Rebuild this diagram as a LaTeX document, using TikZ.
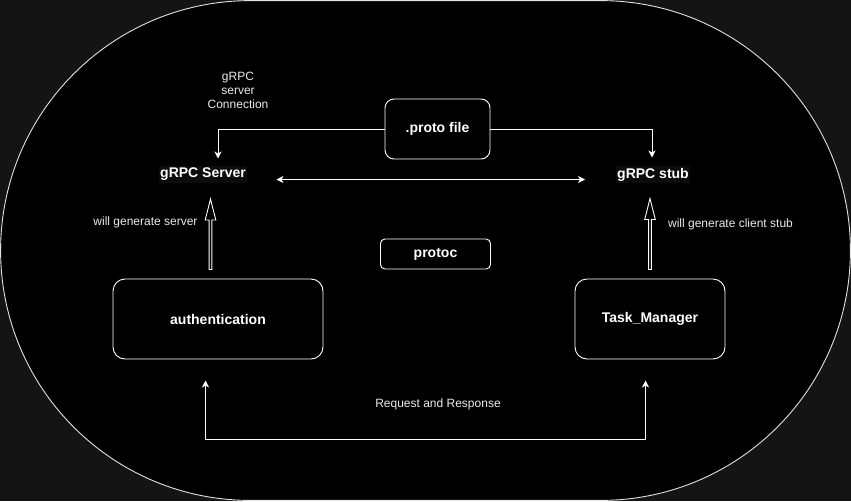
\documentclass[tikz,border=0pt]{standalone}
\usepackage{fontspec}
\setmainfont{Liberation Sans}
\usetikzlibrary{arrows.meta,calc}
\definecolor{outbg}{RGB}{20,20,20}
\definecolor{edge}{RGB}{225,225,225}
\definecolor{lbl}{RGB}{235,235,235}
\definecolor{lblbg}{RGB}{12,12,12}
\tikzset{
  small/.style={font=\fontsize{12}{14}\selectfont, text=lbl, inner sep=0pt, align=center},
  bold/.style={font=\fontsize{14}{16}\selectfont\bfseries, text=white, inner sep=0pt},
  box/.style={draw=white, line width=0.9pt, fill=black, font=\fontsize{14}{16}\selectfont\bfseries, text=white, inner sep=0pt},
  arr/.style={draw=white, line width=0.9pt, -{Stealth[length=7pt,width=7pt,inset=2pt]}},
  arrboth/.style={draw=white, line width=0.9pt, {Stealth[length=7pt,width=7pt,inset=2pt]}-{Stealth[length=7pt,width=7pt,inset=2pt]}},
  blockarr/.style={draw=white, line width=0.9pt, line join=miter},
}
\begin{document}
\begin{tikzpicture}[x=1pt,y=-1pt]
\useasboundingbox (0,0) rectangle (851,501);
\fill[outbg] (0,0) rectangle (851,501);
% outer stadium
\draw[edge, line width=0.9pt, fill=black]
  (250.5,0.6) -- (600.5,0.6) arc[start angle=90, end angle=-90, radius=249.9pt]
  -- (250.5,500.4) arc[start angle=270, end angle=90, radius=249.9pt] -- cycle;

% boxes
\node[box, rounded corners=9pt, minimum width=105pt, minimum height=60pt] (proto) at (437.5,129) {.proto file};
\node[box, rounded corners=4.5pt, minimum width=110pt, minimum height=30pt] (protoc) at (435.5,254) {protoc};
\node[box, rounded corners=12pt, minimum width=210pt, minimum height=80pt] (auth) at (218,319) {authentication};
\node[box, rounded corners=12pt, minimum width=150pt, minimum height=80pt] (task) at (650,319) {Task\_Manager};

% plain text nodes
\node[bold, fill=lblbg, inner xsep=1pt, inner ysep=2pt] (server) at (203,174.5) {gRPC Server};
\node[bold, fill=lblbg, inner xsep=1pt, inner ysep=2pt] (stub) at (653,174.5) {gRPC stub};
\node[small] (conn) at (238,90) {gRPC\\server\\Connection};
\node[small] (gensrv) at (145.5,222) {will generate server};
\node[small] (genstub) at (730.5,224) {will generate client stub};
\node[small] (reqres) at (438,404) {Request and Response};

% connector end points
\coordinate (srvtip) at (218,158.5);
\coordinate (stubtip) at (652,157.5);
\coordinate (lrl) at (276.5,179.5);
\coordinate (lrr) at (585,179.5);
\coordinate (reqL) at (205.5,380.5);
\coordinate (reqR) at (645.5,380.5);
\coordinate (reqB) at (645.5,439.5);
\coordinate (baL) at (210.5,269.5);
\coordinate (btL) at (210.5,199);
\coordinate (baR) at (650,269.5);
\coordinate (btR) at (650,198.5);

% connectors
\draw[arr] (proto.west) -| (srvtip);
\draw[arr] (proto.east) -| (stubtip);
\draw[arrboth] (lrl) -- (lrr);
\draw[arrboth] (reqR) -- (reqB) -| (reqL);

% hollow block arrows
\draw[blockarr] ($(baL)+(-1.4,0)$) -- ($(btL)+(-1.4,21)$) -- ($(btL)+(-5.3,21)$) -- (btL)
  -- ($(btL)+(5.3,21)$) -- ($(btL)+(1.4,21)$) -- ($(baL)+(1.4,0)$) -- cycle;
\draw[blockarr] ($(baR)+(-1.4,0)$) -- ($(btR)+(-1.4,21)$) -- ($(btR)+(-5.3,21)$) -- (btR)
  -- ($(btR)+(5.3,21)$) -- ($(btR)+(1.4,21)$) -- ($(baR)+(1.4,0)$) -- cycle;
\end{tikzpicture}
\end{document}
